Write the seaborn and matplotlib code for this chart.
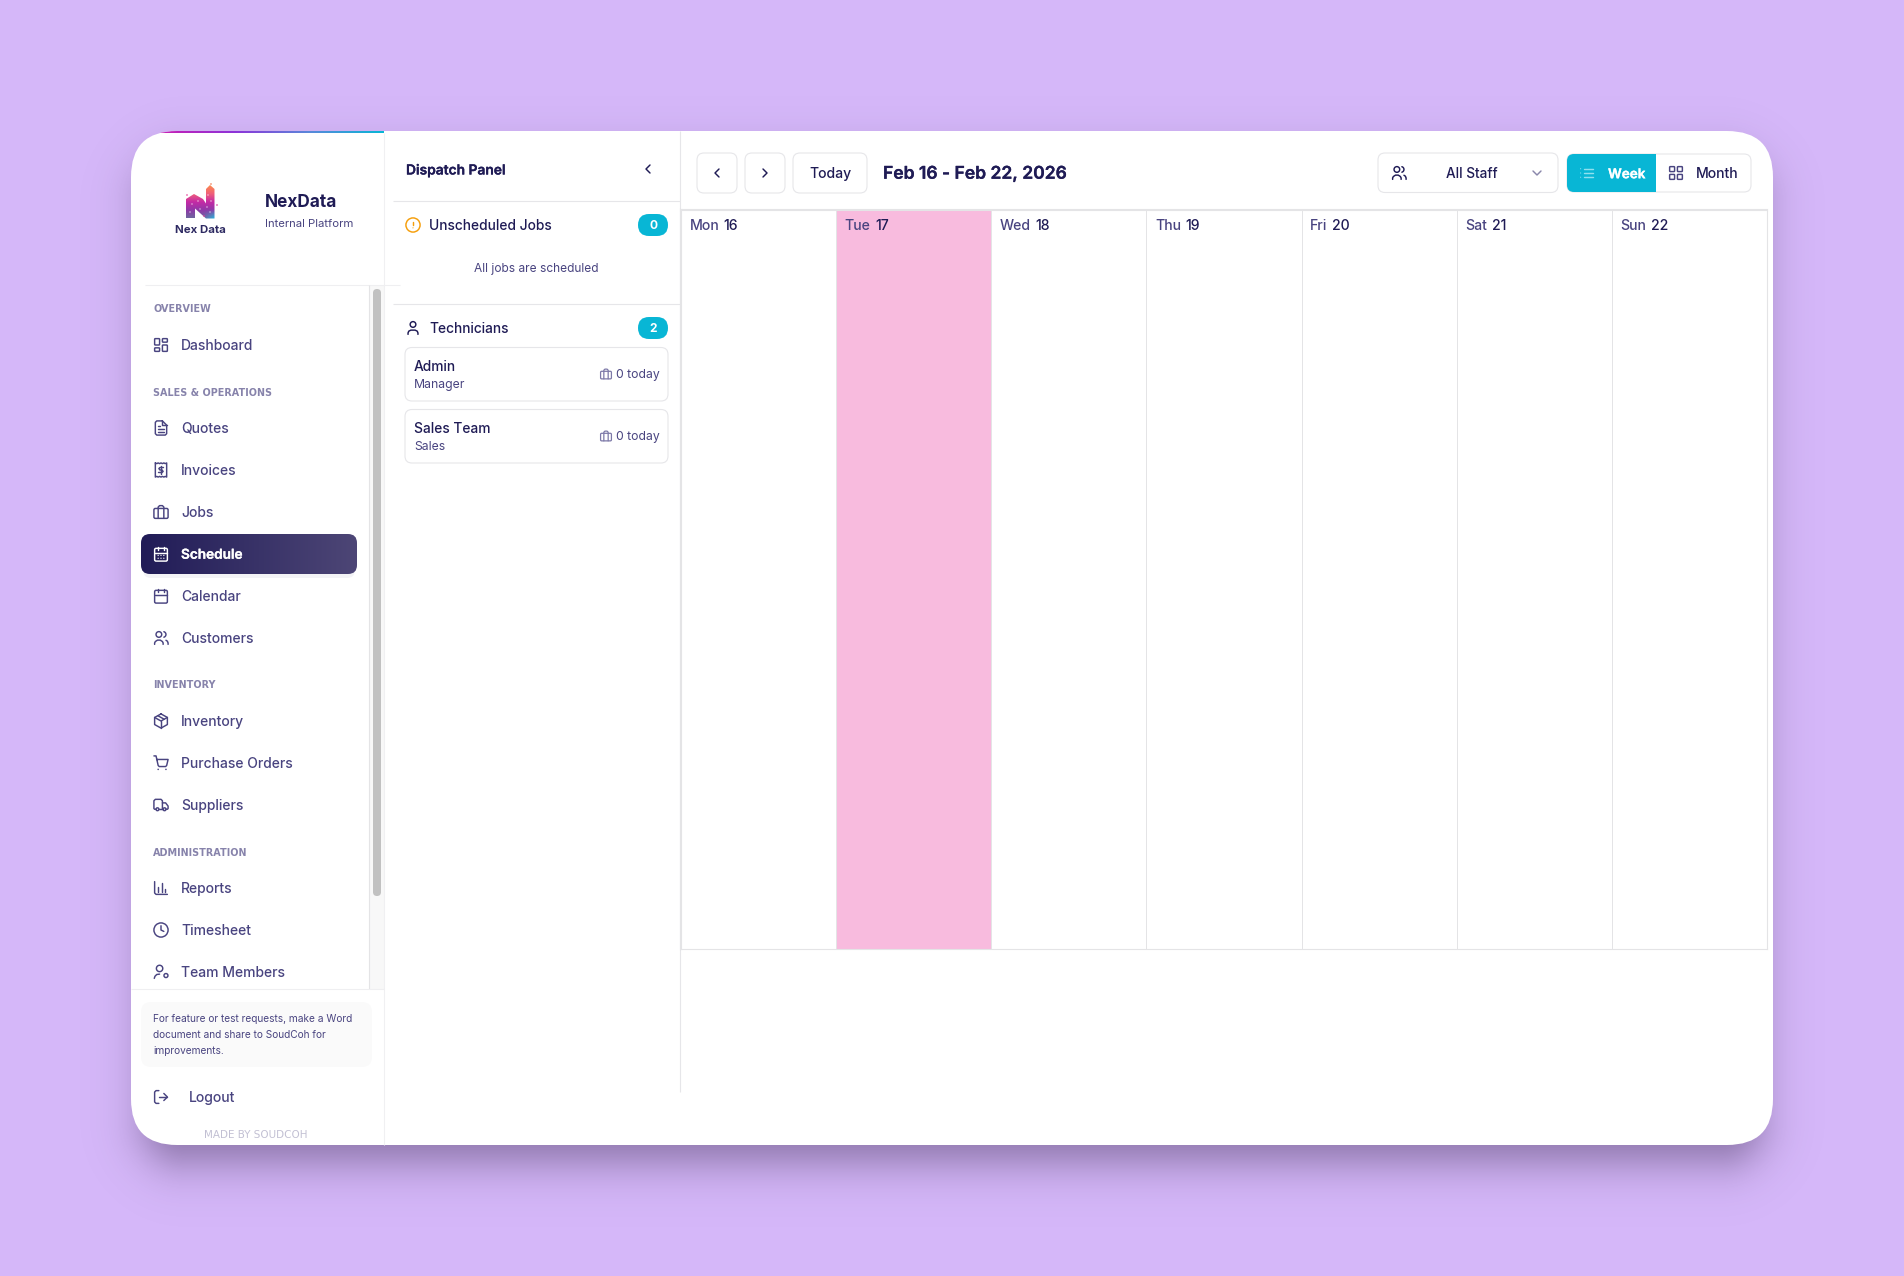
import numpy as np
import seaborn as sns
import matplotlib
matplotlib.use('Agg')
import matplotlib.pyplot as plt
import matplotlib.patheffects as pe
from matplotlib.colors import ListedColormap, to_rgb
from matplotlib.patches import FancyBboxPatch, Circle, Polygon, Rectangle

sns.set_theme(style='white')
plt.rcParams['font.family'] = ['Inter', 'DejaVu Sans']

# chart data
day_names = ['Mon', 'Tue', 'Wed', 'Thu', 'Fri', 'Sat', 'Sun']
day_numbers = ['16', '17', '18', '19', '20', '21', '22']
today_flags = [0, 1, 0, 0, 0, 0, 0]
date_range = 'Feb 16 - Feb 22, 2026'

nav_sections = ['OVERVIEW', 'SALES & OPERATIONS', 'INVENTORY', 'ADMINISTRATION']
nav_items = [
    ['Dashboard'],
    ['Quotes', 'Invoices', 'Jobs', 'Schedule', 'Calendar', 'Customers'],
    ['Inventory', 'Purchase Orders', 'Suppliers'],
    ['Reports', 'Timesheet', 'Team Members'],
]
nav_icons = {
    'Dashboard': 'dashboard', 'Quotes': 'file', 'Invoices': 'receipt', 'Jobs': 'briefcase',
    'Schedule': 'calendar_days', 'Calendar': 'calendar', 'Customers': 'users',
    'Inventory': 'package', 'Purchase Orders': 'cart', 'Suppliers': 'truck',
    'Reports': 'bars', 'Timesheet': 'clock', 'Team Members': 'team',
}
active_item = 'Schedule'
tech_names = ['Admin', 'Sales Team']
tech_roles = ['Manager', 'Sales']
tech_jobs = [0, 0]
unscheduled_count = 0
tech_count = 2
info_lines = ['For feature or test requests, make a Word',
              'document and share to SoudCoh for',
              'improvements.']

BG = '#d5b7f9'
DARK = '#1f1b55'
MUTED = '#494480'
FAINT = '#8783ab'
LINE = '#e6e6e9'
CYAN = '#08b6d5'
PINK = '#f8bbde'
W, H = 1904, 1276
THICKEN = {'semibold': 0.22}

fig = plt.figure(figsize=(W / 100, H / 100), dpi=100, facecolor=BG)
ax = fig.add_axes([0, 0, 1, 1])
ax.set_xlim(0, W)
ax.set_ylim(H, 0)
ax.set_autoscale_on(False)
ax.axis('off')


def px(size):
    return size * 0.72


def stroke(weight, color):
    # the installed Inter has no real semibold, so fatten the outline a little
    if weight in THICKEN:
        return [pe.withStroke(linewidth=THICKEN[weight], foreground=color)]
    return None


def label(x, y, s, size=13.9, color=MUTED, weight='medium', ha='left', **kw):
    return ax.text(x, y - 0.8, s, fontsize=px(size), color=color, fontweight=weight, ha=ha,
                   va='center_baseline', zorder=7, path_effects=stroke(weight, color), **kw)


def box(x0, y0, x1, y1, r=7, fc='white', ec=LINE, lw=0.8, z=2, **kw):
    p = FancyBboxPatch((x0, y0), x1 - x0, y1 - y0, boxstyle=f'round,pad=0,rounding_size={r}',
                       fc=fc, ec=ec, lw=lw, zorder=z, **kw)
    ax.add_patch(p)
    return p


def hline(y, x0, x1, color=LINE, lw=0.8, z=3):
    ax.plot([x0, x1], [y, y], color=color, lw=lw, zorder=z, solid_capstyle='butt')


def vline(x, y0, y1, color=LINE, lw=0.8, z=3):
    ax.plot([x, x], [y0, y1], color=color, lw=lw, zorder=z, solid_capstyle='butt')


def gradient(x0, y0, x1, y1, colors, clip=None, z=3):
    rgb = np.array([to_rgb(c) for c in colors])
    t = np.linspace(0, 1, 256)
    pos = np.linspace(0, 1, len(colors))
    arr = np.stack([np.interp(t, pos, rgb[:, i]) for i in range(3)], axis=-1)[None, :, :]
    im = ax.imshow(arr, extent=(x0, x1, y1, y0), aspect='auto', zorder=z, interpolation='bilinear')
    if clip is not None:
        im.set_clip_path(clip)
    return im


def arc(cx, cy, r, t0, t1):
    t = np.radians(np.linspace(t0, t1, 24))
    return list(zip(cx + r * np.cos(t), cy + r * np.sin(t)))


# icons drawn on a 24 unit grid
ICONS = {
    'dashboard': [('r', 3, 3, 7, 9, 1), ('r', 14, 3, 7, 5, 1), ('r', 14, 12, 7, 9, 1), ('r', 3, 16, 7, 5, 1)],
    'file': [('l', [(14, 2), (6, 2), (4, 4), (4, 20), (6, 22), (18, 22), (20, 20), (20, 8), (14, 2)]),
             ('l', [(14, 2), (14, 8), (20, 8)]), ('l', [(8, 13), (16, 13)]), ('l', [(8, 17), (16, 17)]),
             ('l', [(8, 9), (10, 9)])],
    'receipt': [('l', [(4, 2), (6, 3), (8, 2), (10, 3), (12, 2), (14, 3), (16, 2), (18, 3), (20, 2), (20, 22),
                       (18, 21), (16, 22), (14, 21), (12, 22), (10, 21), (8, 22), (6, 21), (4, 22), (4, 2)]),
                ('l', [(15.5, 8.5), (10.5, 8.5), (9, 10), (10.5, 12), (13.5, 12), (15, 14), (13.5, 15.5), (8.5, 15.5)]),
                ('l', [(12, 6.5), (12, 17.5)])],
    'briefcase': [('r', 2, 7, 20, 14, 2), ('l', [(8, 21), (8, 5), (10, 3), (14, 3), (16, 5), (16, 21)])],
    'calendar': [('l', [(8, 2), (8, 6)]), ('l', [(16, 2), (16, 6)]), ('r', 3, 4, 18, 18, 2), ('l', [(3, 10), (21, 10)])],
    'calendar_days': [('l', [(8, 2), (8, 6)]), ('l', [(16, 2), (16, 6)]), ('r', 3, 4, 18, 18, 2),
                      ('l', [(3, 10), (21, 10)]), ('d', 8, 14, .9), ('d', 12, 14, .9), ('d', 16, 14, .9),
                      ('d', 8, 18, .9), ('d', 12, 18, .9), ('d', 16, 18, .9)],
    'users': [('c', 9, 7, 4), ('l', [(3, 21), (3, 19), (4, 17), (7, 15), (11, 15), (14, 17), (15, 19), (15, 21)]),
              ('a', 15, 7, 4, -75, 75), ('l', [(22, 21), (22, 19), (21, 16.5), (19, 15.2)])],
    'package': [('l', [(12, 2), (21, 7), (21, 17), (12, 22), (3, 17), (3, 7), (12, 2)]),
                ('l', [(3, 7), (12, 12), (21, 7)]), ('l', [(12, 12), (12, 22)]), ('l', [(7.5, 4.5), (16.5, 9.5)])],
    'cart': [('d', 8, 21, 1.1), ('d', 19, 21, 1.1),
             ('l', [(2, 2), (5, 2), (8, 15.5), (9.5, 17), (18.5, 17), (20, 15.5), (22, 7), (5.8, 7)])],
    'truck': [('l', [(14, 18), (14, 6), (12, 4), (4, 4), (2, 6), (2, 17), (3, 18), (5, 18)]), ('l', [(15, 18), (9, 18)]),
              ('l', [(19, 18), (21, 18), (22, 17), (22, 13.5), (18.5, 9), (14, 9)]), ('c', 17, 18, 2), ('c', 7, 18, 2)],
    'bars': [('l', [(3, 3), (3, 19), (5, 21), (21, 21)]), ('l', [(8, 17), (8, 11)]), ('l', [(13, 17), (13, 5)]),
             ('l', [(18, 17), (18, 13)])],
    'clock': [('c', 12, 12, 10), ('l', [(12, 6), (12, 12), (16, 14)])],
    'team': [('c', 10, 7, 4.5), ('l', [(2.5, 21), (3.5, 18), (6, 15.5), (10, 15)]), ('c', 19, 17, 2.8)],
    'logout': [('l', [(9, 3), (5, 3), (3, 5), (3, 19), (5, 21), (9, 21)]), ('l', [(16, 17), (21, 12), (16, 7)]),
               ('l', [(21, 12), (9, 12)])],
    'alert': [('c', 12, 12, 10), ('l', [(12, 8), (12, 12)]), ('d', 12, 16, .8)],
    'user': [('c', 12, 7, 4), ('l', [(19, 21), (19, 19), (18, 16.5), (15, 15), (9, 15), (6, 16.5), (5, 19), (5, 21)])],
    'left': [('l', [(15, 18), (9, 12), (15, 6)])],
    'right': [('l', [(9, 18), (15, 12), (9, 6)])],
    'down': [('l', [(6, 9), (12, 15), (18, 9)])],
    'list': [('l', [(8, 6), (21, 6)]), ('l', [(8, 12), (21, 12)]), ('l', [(8, 18), (21, 18)]),
             ('d', 3, 6, .8), ('d', 3, 12, .8), ('d', 3, 18, .8)],
    'grid': [('r', 3, 3, 7, 7, 1), ('r', 14, 3, 7, 7, 1), ('r', 14, 14, 7, 7, 1), ('r', 3, 14, 7, 7, 1)],
}


def icon(name, cx, cy, size=17, color=MUTED, lw=1.05, z=6):
    k = size / 24
    for op in ICONS[name]:
        if op[0] == 'l' or op[0] == 'a':
            pts = op[1] if op[0] == 'l' else arc(*op[1:])
            xs = [cx + (p[0] - 12) * k for p in pts]
            ys = [cy + (p[1] - 12) * k for p in pts]
            ax.plot(xs, ys, color=color, lw=lw, zorder=z, solid_joinstyle='round', solid_capstyle='round')
        elif op[0] == 'r':
            _, x, y, w, h, r = op
            box(cx + (x - 12) * k, cy + (y - 12) * k, cx + (x + w - 12) * k, cy + (y + h - 12) * k,
                r=r * k, fc='none', ec=color, lw=lw, z=z)
        else:
            fill = color if op[0] == 'd' else 'none'
            ax.add_patch(Circle((cx + (op[1] - 12) * k, cy + (op[2] - 12) * k), op[3] * k,
                                fc=fill, ec=color, lw=lw if op[0] == 'c' else 0, zorder=z))


# card shadow
yy, xx = np.mgrid[0:H, 0:W]
sx0, sx1, sy0, sy1, sr = 145, 1759, 161, 1161, 40
qx = np.abs(xx - (sx0 + sx1) / 2) - ((sx1 - sx0) / 2 - sr)
qy = np.abs(yy - (sy0 + sy1) / 2) - ((sy1 - sy0) / 2 - sr)
sdf = np.hypot(np.maximum(qx, 0), np.maximum(qy, 0)) + np.minimum(np.maximum(qx, qy), 0) - sr
shadow = np.zeros((H, W, 4))
shadow[..., :3] = to_rgb('#1d1030')
shadow[..., 3] = 0.42 / (1 + np.exp(np.clip(sdf / 14, -30, 30)))
ax.imshow(shadow, extent=(0, W, H, 0), aspect='auto', zorder=0)

card = box(131, 131, 1773, 1145, r=46, fc='white', ec='none', lw=0, z=1)
gradient(160, 131, 384, 133.5, ['#c81fb4', '#8d33d8', '#5a88da', '#08b6d5'], clip=card, z=4)

# sidebar frame
vline(384, 133, 1145, color='#f0f0f2')
hline(285, 145, 400, color='#efeff1')
ax.add_patch(Rectangle((369, 285), 15, 704, fc='#f8f8f8', ec='none', zorder=2))
vline(369, 285, 989, color='#e4e4e6')
box(373, 289, 381, 896, r=4, fc='#c1c1c1', ec='none', lw=0, z=3)
hline(989, 131, 384, color='#efeff1')

# logo
logo_outer = [(186, 199), (194, 194), (203, 199), (206, 203.5), (206, 189), (210, 185), (214.5, 189),
              (214.5, 218.5), (206, 218.5), (195, 208.5), (195, 218), (186, 218)]
logo_shape = Polygon(logo_outer, closed=True, fc='none', ec='none', zorder=3)
ax.add_patch(logo_shape)
logo_rgb = np.array([to_rgb(c) for c in ['#fb8a4c', '#f0607a', '#c42aa6', '#8d3aa8', '#6b6b9c']])
logo_arr = np.stack([np.interp(np.linspace(0, 1, 64), np.linspace(0, 1, 5), logo_rgb[:, i])
                     for i in range(3)], axis=-1)[:, None, :].repeat(64, axis=1)
cyan_fade = np.clip((np.linspace(0, 1, 64)[:, None] - 0.72) * 3.5, 0, 1) * np.clip((np.linspace(0, 1, 64)[None, :] - 0.6) * 2.5, 0, 1)
logo_arr = logo_arr * (1 - cyan_fade[..., None]) + np.array(to_rgb('#27b6e4')) * cyan_fade[..., None]
logo_im = ax.imshow(logo_arr, extent=(186, 215, 219, 185), aspect='auto', zorder=3, interpolation='bilinear')
logo_im.set_clip_path(logo_shape)
for dx, dy, c in [(187, 195, '#e4409a'), (217, 205, '#d63aa0'), (211, 184, '#f07a50'), (204, 216, '#e4409a')]:
    ax.add_patch(Circle((dx, dy), 0.8, fc=c, ec='none', zorder=4))
for dx, dy in [(208, 195), (211, 201), (192, 204), (200, 209), (210, 212), (190, 212), (198, 201), (207, 207)]:
    ax.add_patch(Circle((dx, dy), 0.7, fc='white', ec='none', alpha=0.75, zorder=4))
label(200.5, 229.5, 'Nex Data', size=11.4, color='#2e2a62', weight='bold', ha='center')
label(264.5, 201, 'NexData', size=17.2, color=DARK, weight='bold')
label(265, 223.5, 'Internal Platform', size=11.3, color=MUTED, weight='normal')

# navigation
y = 309
for section, items in zip(nav_sections, nav_items):
    label(153, y + 0.3, section, size=9.7, color=FAINT, weight='bold', family=['DejaVu Sans'])
    y += 36
    for item in items:
        is_active = item == active_item
        if is_active:
            box(143, 537, 355, 578, r=8, fc='#1f1b55', ec='none', lw=0, z=1.4, alpha=0.05)
            pill = box(141, 534, 357, 574, r=9, fc='none', ec='none', lw=0, z=2)
            gradient(141, 534, 357, 574, ['#211c57', '#4d4676'], clip=pill, z=2.5)
        c = 'white' if is_active else MUTED
        icon(nav_icons[item], 161, y, color=c)
        label(181, y, item, size=13.6 if is_active else 13.9, color=c, weight='semibold' if is_active else 'medium')
        y += 42
    y += 5

# bottom of sidebar
box(141, 1002, 372, 1067, r=10, fc='#fafafa', ec='none', lw=0, z=2)
for i, line in enumerate(info_lines):
    label(153, 1018.5 + 16.2 * i, line, size=10.1, color=MUTED, weight='normal')
icon('logout', 161, 1097)
label(189, 1097, 'Logout', size=14)
label(256, 1134.5, 'MADE BY SOUDCOH', size=10.4, color='#c2c0d3', weight='normal', ha='center', family=['DejaVu Sans'])

# dispatch panel
label(406, 169.5, 'Dispatch Panel', size=13.8, color=DARK, weight='semibold')
icon('left', 648, 169, size=16, color=DARK)
hline(201, 393, 680)
icon('alert', 413, 225, size=17, color='#f59e0b')
label(429, 225, 'Unscheduled Jobs', size=13.8, color=DARK)
box(638, 214, 668, 236, r=11, fc=CYAN, ec='none', lw=0)
label(653, 225.5, str(unscheduled_count), size=12, color='white', weight='bold', ha='center')
label(536, 268.5, 'All jobs are scheduled', size=11.9, color=MUTED, weight='normal', ha='center')
hline(304, 393, 680)
icon('user', 413, 328, size=17, color=DARK)
label(429, 328, 'Technicians', size=13.8, color=DARK)
box(638, 317, 668, 339, r=11, fc=CYAN, ec='none', lw=0)
label(653, 328.5, str(tech_count), size=12, color='white', weight='bold', ha='center')

for i, (name, role, jobs) in enumerate(zip(tech_names, tech_roles, tech_jobs)):
    top = 347.5 + 62 * i
    box(405, top, 668, top + 53.5)
    label(414, top + 19, name, size=13.8, color=DARK)
    label(414, top + 37, role, size=12.2, weight='normal')
    icon('briefcase', 606, top + 26.5, size=13, color='#7d79a8', lw=0.9)
    label(659.5, top + 27, f'{jobs} today', size=12.2, weight='normal', ha='right')

# toolbar
vline(680, 131, 1092)
box(697, 153, 737, 193)
icon('left', 717, 173, size=16, color=DARK)
box(745, 153, 785, 193)
icon('right', 765, 173, size=16, color=DARK)
box(793, 153, 867, 193)
label(830, 173.5, 'Today', size=14, color=DARK, ha='center')
label(883, 173, date_range, size=17.5, color=DARK, weight='semibold')

box(1378, 153, 1558, 192.5)
icon('users', 1399, 173, size=17, color=DARK)
label(1472, 173.5, 'All Staff', size=13.6, color=DARK, ha='center')
icon('down', 1537, 173, size=16, color='#8a87ab')
toggle = box(1567, 154, 1751, 192)
ax.add_patch(Rectangle((1567, 154), 89, 38, fc=CYAN, ec='none', zorder=3, clip_path=toggle))
icon('list', 1587, 173, size=17, color='#8fe0ee')
label(1608, 173.5, 'Week', size=13.5, color='white', weight='semibold')
icon('grid', 1676, 173, size=17, color=MUTED)
label(1696, 173.5, 'Month', size=14, color=DARK)

# week grid
cal_ax = fig.add_axes([681 / W, 1 - 949 / H, (1767 - 681) / W, (949 - 210) / H], zorder=5)
sns.heatmap(np.array([today_flags]), ax=cal_ax, cmap=ListedColormap(['white', PINK]), cbar=False,
            vmin=0, vmax=1, linewidths=0.72, linecolor='#e4e4e6', xticklabels=False, yticklabels=False)
for side, spine in cal_ax.spines.items():
    spine.set_visible(True)
    spine.set_color('#e4e4e6')
    spine.set_linewidth(1.5 if side in ('top', 'left') else 0.8)

for i, (name, number) in enumerate(zip(day_names, day_numbers)):
    first = cal_ax.annotate(name, xy=(i, 0), xytext=(8.5, -14), xycoords='data', textcoords='offset pixels',
                            fontsize=px(14.1), color=MUTED, fontweight='medium', va='center_baseline')
    cal_ax.annotate(number, xy=(1, 0), xytext=(4.5, 0), xycoords=first, textcoords='offset pixels',
                    fontsize=px(14.1), color=DARK, fontweight='medium', va='bottom')

fig.savefig('out.png', dpi=100, facecolor=BG)
